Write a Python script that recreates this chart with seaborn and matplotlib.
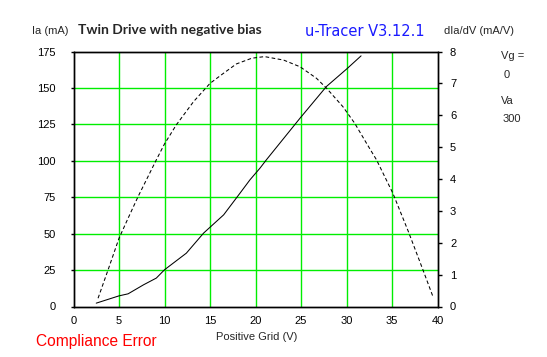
import matplotlib
matplotlib.use("Agg")
import matplotlib.pyplot as plt
import seaborn as sns
import pandas as pd

# Anode current Ia (mA) vs positive grid voltage (solid, left axis)
grid_ia = [2.5, 5.0, 6.0, 7.7, 9.1, 10.0, 12.4, 14.3, 16.5, 18.3, 19.4, 20.5, 21.2, 24.9, 27.8, 30.0, 31.6]
ia_ma = [2.3, 7.3, 8.7, 14.9, 19.5, 25.2, 36.6, 50.4, 62.9, 77.8, 87.0, 95.0, 100.7, 129.3, 151.0, 162.9, 172.0]

# Transconductance dIa/dV (mA/V) (dashed, right axis)
grid_gm = [2.7, 3.8, 5.0, 6.0, 7.1, 9.1, 10.0, 11.3, 13.2, 15.0, 16.5, 17.9, 19.6, 21.0, 23.1, 24.9,
           26.7, 27.8, 29.6, 30.9, 32.2, 33.3, 35.1, 36.8, 38.4, 39.5]
gm_ma_v = [0.26, 1.15, 2.14, 2.77, 3.45, 4.6, 5.1, 5.7, 6.43, 7.0, 7.32, 7.61, 7.79, 7.84, 7.73, 7.52,
           7.16, 6.85, 6.27, 5.75, 5.12, 4.6, 3.55, 2.35, 1.15, 0.31]

x_ticks = [0, 5, 10, 15, 20, 25, 30, 35, 40]
ia_ticks = [0, 25, 50, 75, 100, 125, 150, 175]
gm_ticks = [0, 1, 2, 3, 4, 5, 6, 7, 8]

sns.set_style("white")
plt.rcParams['font.family'] = ['Liberation Sans', 'DejaVu Sans']

fig = plt.figure(figsize=(5.47, 3.57), dpi=100)
ax = fig.add_axes([73.5 / 547, 50.5 / 357, 364 / 547, 255 / 357])
ax2 = ax.twinx()

df_ia = pd.DataFrame({"x": grid_ia, "y": ia_ma})
df_gm = pd.DataFrame({"x": grid_gm, "y": gm_ma_v})

sns.lineplot(data=df_ia, x="x", y="y", ax=ax, color="black", linewidth=0.75, zorder=5)
sns.lineplot(data=df_gm, x="x", y="y", ax=ax2, color="black", linewidth=0.75,
             linestyle=(0, (3.5, 2.4)), zorder=5)

ax.set_xlim(0, 40)
ax.set_ylim(0, 175)
ax2.set_ylim(0, 8)

ax.set_xticks(x_ticks)
ax.set_yticks(ia_ticks)
ax2.set_yticks(gm_ticks)

for v in x_ticks[1:-1]:
    ax.axvline(v, color="#00ee00", linewidth=1.0, zorder=1)
for v in ia_ticks[1:-1]:
    ax.axhline(v, color="#00ee00", linewidth=1.0, zorder=1)

for a in (ax, ax2):
    for s in a.spines.values():
        s.set_color("black")
        s.set_linewidth(1.0)

ax.tick_params(axis="x", length=0, pad=7, labelsize=8, colors="black")
ax.tick_params(axis="y", length=2, width=1, pad=11, labelsize=8, colors="black")
ax2.tick_params(axis="y", length=3, width=1, pad=6, labelsize=8, colors="black")
ax.set_xlabel("")
ax.set_ylabel("")
ax2.set_ylabel("")

# Texts
fig.text(32 / 547, 1 - 30.5 / 357, "Ia (mA)", fontsize=8, ha="left", va="center")
fig.text(78 / 547, 1 - 29.5 / 357, "Twin Drive with negative bias", fontsize=10,
         fontweight="bold", family=["Lato", "DejaVu Sans"], ha="left", va="center")
fig.text(305 / 547, 1 - 31.5 / 357, "u-Tracer V3.12.1", fontsize=10.5, color="#1a1aff",
         family=["DejaVu Sans"], ha="left", va="center")
fig.text(444 / 547, 1 - 30.5 / 357, "dIa/dV (mA/V)", fontsize=8, ha="left", va="center")
fig.text(501 / 547, 1 - 56 / 357, "Vg =", fontsize=8, ha="left", va="center")
fig.text(504 / 547, 1 - 75 / 357, "0", fontsize=8, ha="left", va="center")
fig.text(501 / 547, 1 - 101 / 357, "Va", fontsize=8, ha="left", va="center")
fig.text(503 / 547, 1 - 119 / 357, "300", fontsize=8, ha="left", va="center")
fig.text(256.5 / 547, 1 - 337.5 / 357, "Positive Grid (V)", fontsize=8, ha="center", va="center")
fig.text(36.5 / 547, 1 - 341.5 / 357, "Compliance Error", fontsize=11.2, color="#ff0000",
         ha="left", va="center")

fig.savefig("out.png", dpi=100)
